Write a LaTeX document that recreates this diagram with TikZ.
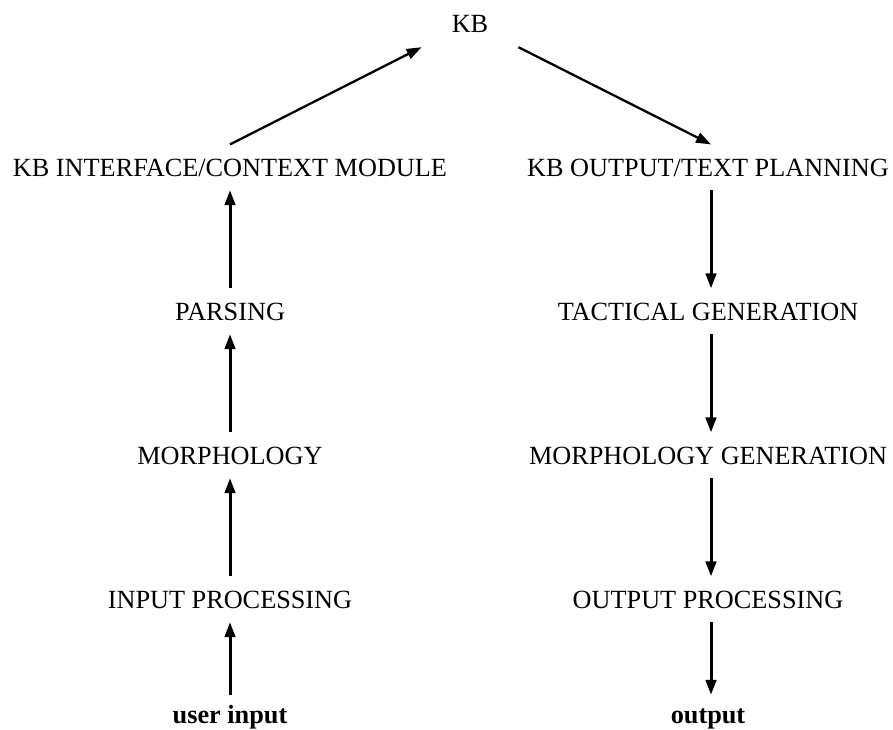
\documentclass[tikz,border=0pt]{standalone}
\usepackage{fontspec}
\setmainfont{Liberation Serif}
\usetikzlibrary{arrows.meta}
\begin{document}
\begin{tikzpicture}[x=1pt,y=-1pt,
  lbl/.style={anchor=base,inner xsep=0pt,inner ysep=14pt,text height=17.4pt,text depth=0pt,
    font=\fontsize{26.25pt}{30pt}\selectfont},
  endlbl/.style={lbl,inner ysep=10.6pt,font=\fontsize{26.25pt}{30pt}\selectfont\bfseries},
  kblbl/.style={lbl,inner xsep=30pt,inner ysep=15pt},
  varr/.style={line width=3pt,-{Triangle[length=15pt,width=10.5pt]}},
  darr/.style={line width=2.3pt,-{Triangle[length=15pt,width=10.5pt]}}]
\useasboundingbox (0,0) rectangle (893,729);
\node[kblbl] (kb) at (470,32) {KB};
% left column
\node[lbl] (kbi) at (230,176) {KB INTERFACE/CONTEXT MODULE};
\node[lbl] (pars) at (230,320) {PARSING};
\node[lbl] (morph) at (230,464) {MORPHOLOGY};
\node[lbl] (inp) at (230,608) {INPUT PROCESSING};
\node[endlbl] (user) at (230,723) {user input};
% right column
\node[lbl] (kbo) at (708,176) {KB OUTPUT/TEXT PLANNING};
\node[lbl] (tact) at (708,320) {TACTICAL GENERATION};
\node[lbl] (mgen) at (708,464) {MORPHOLOGY GENERATION};
\node[lbl] (outp) at (708,608) {OUTPUT PROCESSING};
\node[endlbl] (out) at (708,723) {output};
% left arrows
\draw[varr] (user.north) -- (inp.south);
\draw[varr] (inp.north) -- (morph.south);
\draw[varr] (morph.north) -- (pars.south);
\draw[varr] (pars.north) -- (kbi.south);
\draw[darr] (kbi.north) -- (kb.south west);
% right arrows
\draw[darr] (kb.south east) -- ([xshift=3pt]kbo.north);
\draw[varr] ([xshift=3pt]kbo.south) -- ([xshift=3pt]tact.north);
\draw[varr] ([xshift=3pt]tact.south) -- ([xshift=3pt]mgen.north);
\draw[varr] ([xshift=3pt]mgen.south) -- ([xshift=3pt]outp.north);
\draw[varr] ([xshift=3pt]outp.south) -- ([xshift=3pt]out.north);
\end{tikzpicture}
\end{document}
